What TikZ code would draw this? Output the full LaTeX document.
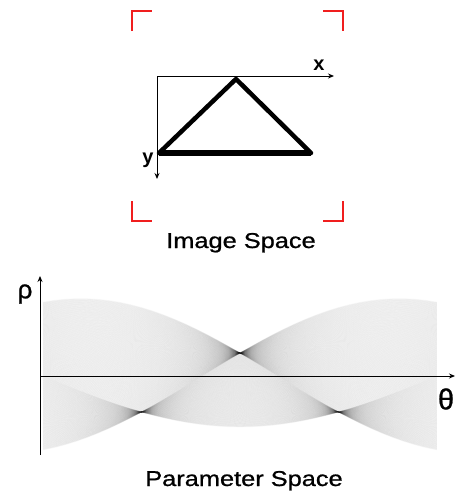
\documentclass[tikz,border=0pt]{standalone}
\usepackage{fontspec}
\setmainfont{Liberation Sans}
\newfontfamily\capfont[FakeBold=0.8]{Liberation Sans}
\usetikzlibrary{arrows.meta}
\definecolor{cornerred}{RGB}{240,30,30}
\tikzset{
  corner/.style={draw=cornerred,line width=1.3pt},
  axis/.style={draw=black,line width=0.9pt,-{Stealth[length=6pt,width=5pt]}},
  edge/.style={draw=black,line width=4.5pt,line cap=round,line join=round},
  base/.style={draw=black,line width=6.5pt},
  curve/.style={draw=black,line width=0.8pt,opacity=0.023},
  caption/.style={font=\capfont\fontsize{21.5}{24}\selectfont,anchor=base},
  axlabel/.style={font=\bfseries\fontsize{20}{22}\selectfont}
}
\begin{document}
\begin{tikzpicture}[x=1pt,y=-1pt]
\useasboundingbox (0,0) rectangle (455,491);
% ---------- image space ----------
\coordinate (o) at (157,76);
\coordinate (xe) at (334,76);
\coordinate (ye) at (157,179);
\coordinate (ta) at (236,79);
\coordinate (tb) at (159,153);
\coordinate (tc) at (311,153);
\draw[corner] (132,31) -- (132,11) -- (152,11);
\draw[corner] (323,11) -- (343,11) -- (343,31);
\draw[corner] (132,201) -- (132,221) -- (152,221);
\draw[corner] (323,221) -- (343,221) -- (343,201);
\draw[axis] (o) -- (xe);
\draw[axis] (o) -- (ye);
\draw[edge] (tb) -- (ta) -- (tc);
\draw[base] (tb) -- (tc);
\node[axlabel] (xl) at (319,65) {x};
\node[axlabel] (yl) at (148,160) {y};
\node[caption] (imgcap) at (241,248) {\scalebox{1.18}[1]{Image Space}};
% ---------- parameter space ----------
\begin{scope}
\clip (43,250) rectangle (437,470);
\foreach \i in {0,...,222} {
  \pgfmathsetmacro\px{-73.9+0.665766*\i}
  \draw[curve] plot[domain=0:180,samples=37] ({43+2.18889*\x},{376-(\px*cos(\x)+23*sin(\x))});
}
\foreach \i in {1,...,155} {
  \pgfmathsetmacro\px{-73.9+0.473718*\i}
  \pgfmathsetmacro\py{23-0.473718*\i}
  \draw[curve] plot[domain=0:180,samples=37] ({43+2.18889*\x},{376-(\px*cos(\x)+\py*sin(\x))});
}
\foreach \i in {0,...,155} {
  \pgfmathsetmacro\px{0.473718*\i}
  \pgfmathsetmacro\py{-50.9+0.473718*\i}
  \draw[curve] plot[domain=0:180,samples=37] ({43+2.18889*\x},{376-(\px*cos(\x)+\py*sin(\x))});
}
\end{scope}
\coordinate (po) at (40,376);
\coordinate (pb) at (40,455);
\coordinate (pt) at (40,276);
\coordinate (pr) at (455,376);
\draw[axis] (pb) -- (pt);
\draw[axis] (po) -- (pr);
\node[font=\capfont\fontsize{26}{28}\selectfont] (rho) at (25,294) {ρ};
\node[font=\capfont\fontsize{29}{31}\selectfont,inner sep=0pt] (theta) at (446,399) {θ};
\node[caption] (parcap) at (244,486) {\scalebox{1.18}[1]{Parameter Space}};
\end{tikzpicture}
\end{document}
